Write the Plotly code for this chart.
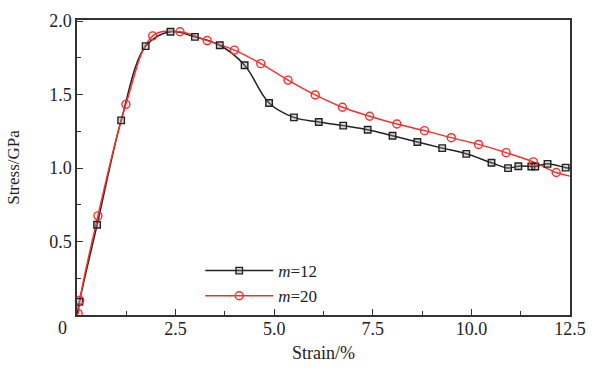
import plotly.graph_objects as go

# m=12 (black squares)
m12_x = [0.06, 0.51, 1.12, 1.74, 2.37, 2.99, 3.62, 4.25, 4.87, 5.50, 6.13, 6.75, 7.37, 8.00,
         8.63, 9.26, 9.87, 10.51, 10.93, 11.19, 11.52, 11.62, 11.93, 12.39]
m12_y = [0.09, 0.614, 1.325, 1.83, 1.928, 1.893, 1.836, 1.70, 1.443, 1.345, 1.314, 1.289,
         1.261, 1.22, 1.178, 1.136, 1.097, 1.036, 1.0, 1.013, 1.011, 1.011, 1.029, 1.003]
m12_start = (0.0, 0.0)
m12_end = (12.5, 0.998)

# m=20 (red circles)
m20_x = [0.03, 0.07, 0.53, 1.24, 1.92, 2.61, 3.30, 3.99, 4.66, 5.35, 6.04, 6.73, 7.42, 8.11,
         8.81, 9.49, 10.18, 10.88, 11.57, 12.15]
m20_y = [0.01, 0.10, 0.675, 1.434, 1.90, 1.928, 1.868, 1.803, 1.711, 1.599, 1.498, 1.414,
         1.353, 1.30, 1.255, 1.207, 1.161, 1.105, 1.042, 0.97]
m20_start = (0.0, 0.0)
m20_end = (12.5, 0.945)

x_ticks = [2.5, 5.0, 7.5, 10.0, 12.5]
y_ticks = [0.5, 1.0, 1.5, 2.0]

BLACK = "#222222"
RED = "#ff2b2b"
FONT = "Liberation Serif"
FS = 18

sq_marker = dict(symbol="square", size=6.5, color="rgba(140,140,140,0.35)",
                 line=dict(width=1.4, color=BLACK))
ci_marker = dict(symbol="circle-open", size=8, color=RED, line=dict(width=1.4))

fig = go.Figure()

fig.add_trace(go.Scatter(x=[m12_start[0]] + m12_x + [m12_end[0]],
                         y=[m12_start[1]] + m12_y + [m12_end[1]],
                         mode="lines", line=dict(color=BLACK, width=1.5, shape="spline", smoothing=1.0),
                         showlegend=False, hoverinfo="skip"))
fig.add_trace(go.Scatter(x=[m20_start[0]] + m20_x + [m20_end[0]],
                         y=[m20_start[1]] + m20_y + [m20_end[1]],
                         mode="lines", line=dict(color=RED, width=1.4, shape="spline", smoothing=1.0),
                         showlegend=False, hoverinfo="skip"))
fig.add_trace(go.Scatter(x=m12_x, y=m12_y, mode="markers", marker=sq_marker, showlegend=False))
fig.add_trace(go.Scatter(x=m20_x, y=m20_y, mode="markers", marker=ci_marker, showlegend=False))
# legend entries
fig.add_trace(go.Scatter(x=[None], y=[None], mode="lines+markers", name="<i>m</i>=12",
                         line=dict(color=BLACK, width=1.5), marker=sq_marker))
fig.add_trace(go.Scatter(x=[None], y=[None], mode="lines+markers", name="<i>m</i>=20",
                         line=dict(color=RED, width=1.4), marker=ci_marker))

axis_common = dict(showgrid=False, zeroline=False, showline=True, linecolor="#333", linewidth=1.5,
                   mirror=True, ticks="inside", ticklen=6, tickwidth=1.2, tickcolor="#333",
                   tickfont=dict(family=FONT, size=FS, color="#222"))

fig.update_xaxes(range=[0, 12.5], tickvals=x_ticks, ticktext=[f"{v:.1f}" for v in x_ticks],
                 minor=dict(ticks="inside", ticklen=4, tickwidth=1.2, tickcolor="#333", dtick=1.25),
                 ticklabelstandoff=-3,
                 title=dict(text="Strain/%", font=dict(family=FONT, size=FS, color="#222"), standoff=8),
                 **axis_common)
fig.update_yaxes(range=[0, 2.008], tickvals=y_ticks, ticktext=[f"{v:.1f}" for v in y_ticks],
                 minor=dict(ticks="inside", ticklen=4, tickwidth=1.2, tickcolor="#333", dtick=0.25),
                 title=dict(text="Stress/GPa", font=dict(family=FONT, size=17, color="#222"), standoff=25),
                 **axis_common)

fig.add_annotation(x=0, y=0, xref="x", yref="y", text="0", showarrow=False,
                   xshift=-15, yshift=-13, font=dict(family=FONT, size=FS, color="#222"))

fig.update_layout(
    width=600, height=372,
    margin=dict(l=75, r=30, t=13, b=53),
    paper_bgcolor="white", plot_bgcolor="white",
    legend=dict(x=0.25, y=0.21, xanchor="left", yanchor="top", itemwidth=68,
                font=dict(family=FONT, size=17, color="#222"),
                bgcolor="rgba(0,0,0,0)", tracegroupgap=0),
)

fig.write_html("out.html", config={"displayModeBar": False},
               post_script="document.body.style.margin='0';")
